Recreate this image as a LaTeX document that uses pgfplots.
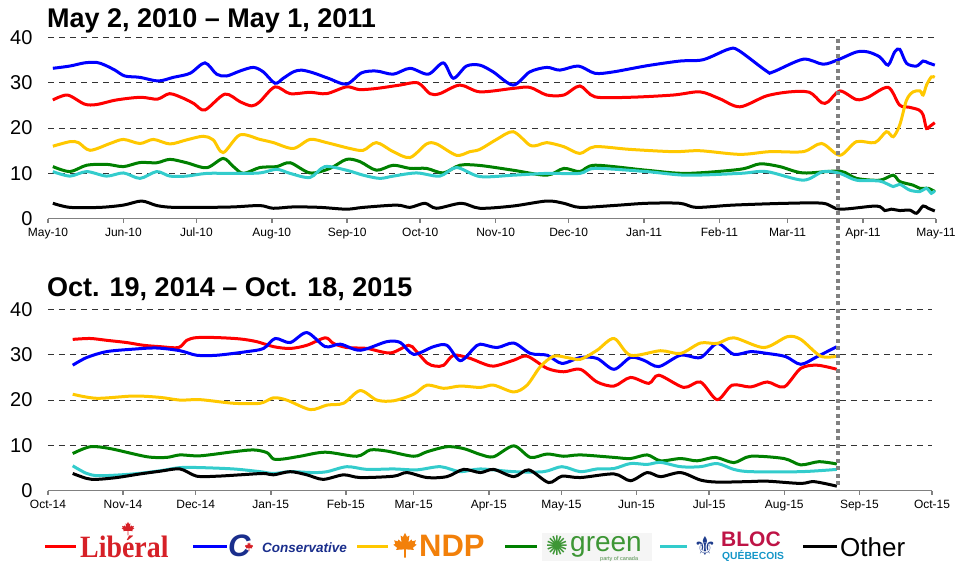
\documentclass[border=0pt]{standalone}
\usepackage{fontspec}
\setmainfont{Liberation Sans}
\newfontfamily\libserif{Liberation Serif}
\newfontfamily\dejavu{DejaVu Sans}
\usepackage{graphicx}
\usepackage{pgfplots}
\pgfplotsset{compat=1.18}

\definecolor{clib}{RGB}{255,0,0}
\definecolor{ccpc}{RGB}{0,0,255}
\definecolor{cndp}{RGB}{255,200,0}
\definecolor{cgrn}{RGB}{0,128,0}
\definecolor{cbq}{RGB}{51,204,204}
\definecolor{libred}{RGB}{214,32,39}
\definecolor{cpcblue}{RGB}{26,46,140}
\definecolor{ndporange}{RGB}{242,128,10}
\definecolor{gpcgreen}{RGB}{61,150,53}
\definecolor{blocred}{RGB}{190,20,70}
\definecolor{blocblue}{RGB}{20,150,200}
\definecolor{blocnavy}{RGB}{30,60,140}

% simple maple leaf shape (decoration in the legend logos)
\newcommand{\mapleleaf}[4]{% color, x, y, size
  \fill[#1, shift={(#2,#3)}, x=#4, y=#4]
  (0,0.5) -- (-0.08,0.35) -- (-0.17,0.4) -- (-0.13,0.13) -- (-0.25,0.25) -- (-0.28,0.18)
  -- (-0.42,0.22) -- (-0.37,0.08) -- (-0.45,0.05) -- (-0.3,-0.07) -- (-0.34,-0.15)
  -- (-0.03,-0.13) -- (-0.03,-0.45) -- (0.03,-0.45) -- (0.03,-0.13) -- (0.34,-0.15)
  -- (0.3,-0.07) -- (0.45,0.05) -- (0.37,0.08) -- (0.42,0.22) -- (0.28,0.18)
  -- (0.25,0.25) -- (0.13,0.13) -- (0.17,0.4) -- (0.08,0.35) -- cycle;}

\pgfplotsset{
  panel/.style={
    scale only axis, height=181.2pt,
    xmin=0, xmax=365, ymin=0, ymax=40,
    axis x line*=bottom, axis y line*=left,
    x axis line style={draw=gray, line width=1.5pt, -},
    y axis line style={draw=none},
    ytick={0,10,20,30,40},
    yticklabels={0,10,20,30,40},
    ymajorgrids,
    major grid style={dash pattern=on 6pt off 5pt, line width=1pt, color=black!80},
    ytick style={draw=none},
    xtick style={draw=gray, line width=1.5pt},
    tick align=outside, major tick length=4pt,
    yticklabel style={font=\fontsize{20}{22}\selectfont, xshift=-8pt},
    xticklabel style={font=\fontsize{12}{14}\selectfont, yshift=-2pt},
    /pgf/number format/assume math mode=true,
    every axis plot/.append style={line width=3pt, smooth, mark=none},
  }
}

\begin{document}
\begin{tikzpicture}
\path[use as bounding box] (0,0) rectangle (959pt,564pt);

% ---------------- top panel ----------------
\begin{axis}[panel, width=888pt, at={(48pt,345.3pt)}, anchor=south west,
  xtick={0,31,61,92,123,153,184,214,245,276,304,335,365},
  xticklabels={May-10,Jun-10,Jul-10,Aug-10,Sep-10,Oct-10,Nov-10,Dec-10,Jan-11,Feb-11,Mar-11,Apr-11,May-11}]
\addplot[clib] coordinates {(2,26.2)(8,27.3)(15,25.3)(20,25.2)(28,26.2)(38,26.8)(45,26.4)(50,27.6)(56,26.5)(60,25.4)(64.5,24)(72.7,27.5)(79,25.8)(83.7,24.9)(87,25.8)(93.3,29.1)(99.5,27.6)(107.7,27.9)(114.5,27.6)(122.7,29.1)(128,28.5)(135,28.75)(144.7,29.5)(152,30)(157,27.6)(161,27.6)(169.3,29.5)(177.5,28)(191,28.75)(198,29)(205,27.3)(212,27.3)(218.6,29.3)(224.8,26.9)(239,26.8)(257,27.3)(268,28)(276,26.5)(284.4,24.7)(295.3,27.1)(305,28)(313,27.9)(318,25.6)(320.7,25.8)(325.5,28.2)(332.3,26.3)(337,26.8)(345.3,29)(350,25.1)(354,24.6)(358,24)(359.7,22.9)(361.1,19.9)(362.5,20.4)(364.5,21.2)};
\addplot[ccpc] coordinates {(2,33.2)(9,33.7)(15,34.4)(20,34.5)(23.4,33.9)(27.5,32.8)(31.6,31.5)(37.8,31.2)(45.3,30.4)(51.5,31.2)(58.4,32.1)(64.5,34.4)(69.3,31.9)(73.4,31.5)(78.9,32.6)(84.4,33.4)(88.5,32.4)(93.3,29.9)(96.7,31)(100.8,32.4)(104.2,32.8)(109,32.2)(115.2,31)(122.7,29.7)(128.9,32.2)(135,32.6)(141.9,31.9)(148.8,33.2)(156.3,31.9)(162.5,34.4)(166.6,31)(172,33.7)(177.5,33.9)(183,32.4)(191.2,29.5)(198,32.4)(205,33.4)(210.4,32.8)(218,33.7)(224.8,32.1)(232.3,32.4)(246,33.75)(259.7,34.8)(269.3,35.1)(279.6,37.4)(283.7,37.2)(295.3,32.6)(298,32.4)(310.4,35.2)(318.6,34.1)(324.8,35.1)(332.3,36.8)(337.1,36.8)(341.9,35.7)(345.3,33.9)(348,36.8)(350.1,37.4)(352.9,34.3)(357,33.7)(359.7,34.8)(361.8,34.4)(364.5,33.9)};
\addplot[cndp] coordinates {(2,16)(9,17)(12.5,16.8)(17.3,15.1)(25.5,16.6)(31,17.5)(37.8,16.6)(43.3,17.5)(50.1,16.5)(57,17.4)(63.8,18.2)(67.9,17.4)(72,14.6)(78.9,18.5)(87.1,17.5)(92.6,16.8)(100.8,15.5)(107.7,17.5)(114.5,16.8)(124.1,15.5)(129.6,15.1)(135,16.8)(141.9,14.8)(148.8,13.5)(155.6,16.5)(159.7,16.5)(167.9,14)(173.4,14.8)(177.5,15.3)(184.4,17.5)(191.2,19.2)(198,16.25)(201.5,16.25)(205,16.8)(212,15.9)(218.6,14.4)(224.8,15.9)(239.2,15.3)(257,14.8)(268,15)(284.4,14.2)(296.7,14.8)(310.4,14.8)(318,16.6)(325.5,14)(332.3,17)(339.9,16.8)(344.6,19.2)(347.4,18.1)(350.1,20.7)(352.9,26.2)(355.6,28)(358.4,28.2)(359.7,27.3)(361.1,29.5)(363.1,31.3)(364.5,31.2)};
\addplot[cgrn] coordinates {(2,11.5)(9,10.4)(15.9,11.8)(24.1,12)(31,11.5)(37.8,12.4)(44.7,12.35)(50.1,13.1)(57,12.35)(65.2,11.25)(72,13.3)(76.2,11.5)(80.3,10)(87.1,11.3)(94,11.5)(99.5,12.35)(107.7,10.1)(115.9,11.1)(122.7,13.1)(128.2,12.6)(135,10.7)(141.9,11.8)(148.8,11.1)(155.6,11.1)(162.5,10.1)(169.3,11.8)(177.5,11.75)(191.2,10.7)(205,9.6)(212,11.1)(218.6,10.4)(224.8,11.8)(246,10.7)(262.4,10)(284.4,10.9)(292.6,12.1)(300.8,11.5)(310.4,10.1)(325.5,10.5)(332.3,8.9)(341.9,8.5)(347.4,9.6)(350.1,8.2)(355.6,7.4)(358.4,6.7)(361.8,6.7)(364.5,6)};
\addplot[cbq] coordinates {(2,10.4)(9,9.4)(15.9,10.4)(24.1,9.4)(31,10.1)(37.8,8.9)(44.7,10.4)(50.1,9.4)(57,9.4)(65.2,10)(76.2,10)(87.1,10.1)(94,10.9)(99.5,10)(107.7,9.1)(113.8,11.5)(122.7,10.7)(129.6,9.6)(136.4,8.9)(141.9,9.4)(151.5,10.1)(161,9.4)(167.9,11.3)(177.5,9.3)(191.2,9.6)(205,10)(218.6,10)(224.8,11.1)(246,10.4)(262.4,9.6)(284.4,10)(295.3,10.4)(310.4,8.5)(318.6,10.4)(325.5,10)(332.3,8.5)(341.9,8.3)(347.4,7.1)(350.1,7.6)(354.2,6.3)(358.4,6)(361.1,6.7)(363.1,5.6)(364.5,6.2)};
\addplot[black] coordinates {(2,3.4)(9,2.5)(21.4,2.5)(31,3)(38.5,3.9)(44.7,2.9)(51.5,2.5)(65.2,2.5)(76.2,2.6)(87.1,2.9)(92.6,2.3)(100.8,2.6)(111.8,2.5)(122.7,2.1)(129.6,2.5)(143.3,3)(148.8,2.5)(154.9,3.4)(159.7,2.3)(169.9,3.4)(177.5,2.3)(191.2,2.8)(205,3.9)(212,3.4)(218.6,2.5)(232.3,2.9)(246,3.4)(259.7,3.4)(266.6,2.5)(281.6,3)(303.6,3.4)(318.6,3.4)(325.5,2.1)(340.5,2.8)(343.9,1.8)(346.6,2.1)(350.1,1.8)(354.2,1.9)(357,1.2)(359.7,2.8)(361.8,2.3)(364.5,1.7)};
\end{axis}

% ---------------- bottom panel ----------------
\begin{axis}[panel, width=884pt, at={(48pt,73.3pt)}, anchor=south west,
  xtick={0,31,61,92,123,151,182,212,243,273,304,335,365},
  xticklabels={Oct-14,Nov-14,Dec-14,Jan-15,Feb-15,Mar-15,Apr-15,May-15,Jun-15,Jul-15,Aug-15,Sep-15,Oct-15}]
\addplot[clib] coordinates {(10.2,33.4)(17.4,33.6)(24.2,33.2)(32.5,32.7)(39.4,32.1)(46.3,31.8)(53.9,31.6)(57.3,33.2)(61.4,33.8)(69.7,33.8)(79.3,33.5)(86.2,32.9)(93.1,31.8)(100,31.4)(106.9,32.1)(114.5,33.75)(117.9,32.5)(123.4,31.6)(131.7,31.4)(141.3,30.4)(148.9,32.1)(151.7,31)(156.5,28.2)(159.9,27.5)(163.4,27.7)(167.5,29.9)(174.4,29.2)(178.5,28.3)(184,27.5)(192.3,28.8)(197.8,29.7)(206.1,27)(212.9,26.25)(219.8,26.8)(226.7,24)(233.7,23.1)(240.5,25)(248.1,23.7)(252.2,25.5)(262.5,22.8)(269.4,24)(276.3,20.1)(282.5,23.3)(290.1,22.9)(297,24)(303.9,22.9)(310.8,27)(317.6,27.7)(325.7,26.8)};
\addplot[ccpc] coordinates {(10.2,27.7)(16,29.4)(24.2,30.7)(35.3,31.25)(44.9,31.5)(54.5,30.9)(61.4,29.9)(69.7,29.9)(82.1,30.7)(89,31.4)(93.8,33.6)(100,32.7)(106.9,34.9)(114.5,31.8)(120.7,32.35)(128.9,31)(139.9,32.9)(145.5,32.7)(151,30.1)(159.2,31.8)(164.7,32.1)(170.2,28.7)(175.8,31.4)(178.5,32.35)(185.4,31.6)(192.3,32.6)(199.2,30.3)(206.1,29.9)(212.2,28.1)(219.8,29.4)(226.7,29.2)(233.7,26.8)(240.5,29.4)(246,28.8)(252.2,27.4)(261.2,29.9)(269.4,29.4)(276.3,32.5)(283.2,30.1)(290.1,30.7)(297,30.3)(304.6,29.6)(310.8,27.9)(317.6,29.6)(325.7,31.8)};
\addplot[cndp] coordinates {(10.2,21.3)(20.1,20.4)(35.3,20.9)(46.3,20.6)(54.5,20)(62.8,20.1)(76.6,19.3)(87.6,19.3)(93.1,20.5)(98.6,20)(108.3,17.9)(115.2,18.9)(122,19.3)(128.9,22.1)(135.8,20)(142.7,19.85)(151,21.3)(156.5,23.3)(163.4,22.6)(170.2,23.1)(178.5,22.8)(184,23.3)(192.3,21.8)(197.8,23.3)(203.3,27.4)(208.8,29.7)(214.3,29.4)(219.8,29)(226.7,31)(233.7,33.6)(240.5,29.9)(252.9,30.9)(261.2,30.3)(269.4,32.6)(276.3,32.5)(283.2,33.75)(295.6,31.6)(305.3,34)(310.8,33.4)(319,29.7)(325.7,29.7)};
\addplot[cgrn] coordinates {(10.2,8.2)(17.4,9.7)(25.6,9.3)(40.8,7.5)(49,7.35)(54.5,7.9)(62.8,7.7)(76.6,8.6)(84.8,9)(90.4,8.4)(93.1,7)(97.2,7)(104.1,7.6)(114.5,8.5)(127.5,7.6)(133.1,9)(139.9,8.75)(151,7.6)(156.5,8.6)(164.7,9.7)(171.6,9.3)(178.5,8.0)(184,7.5)(192.3,9.9)(199.2,7.35)(206.1,8.1)(212.9,7.6)(219.8,7.9)(233.7,7.35)(240.5,7.1)(247.4,7.9)(252.9,6.6)(261.2,7.1)(268,6.6)(275.6,7.35)(283.2,6.2)(290.1,7.6)(303.9,7.1)(310.8,5.7)(318.3,6.4)(325.7,5.9)};
\addplot[cbq] coordinates {(10.2,5.5)(16,3.8)(21.5,3.3)(35.3,3.7)(46.3,4.4)(54.5,5.1)(62.8,5.1)(76.6,4.8)(87.6,4.2)(93.1,3.8)(100,4.2)(109.6,4)(115.2,4.2)(123.4,5.3)(131.7,4.7)(142.7,4.8)(152.3,4.6)(162,5.3)(170.2,4.2)(178.5,4.8)(192.3,4.2)(204.7,4.2)(212.2,5.3)(219.8,4.2)(226.7,4.8)(233.7,4.9)(240.5,6)(247.4,5.8)(252.9,6.25)(261.2,5.3)(269.4,5.3)(276.3,6)(283.2,4.7)(290.1,4.2)(310.8,4.2)(325.7,4.7)};
\addplot[black] coordinates {(10.2,3.8)(16,2.7)(20.1,2.5)(28.4,2.9)(38,3.7)(46.3,4.3)(54.5,4.8)(61.4,3.2)(69.7,3.2)(79.3,3.5)(89,3.8)(93.1,3.5)(100,4.2)(106.9,3.5)(113.6,2.5)(122,3.5)(128.9,2.9)(142.7,3.2)(148.2,4)(156.5,2.9)(164.7,3.1)(171.6,4.7)(178.5,4)(184,4.7)(192.3,3.1)(198.5,4.6)(206.7,1.8)(212.2,3.2)(219.8,2.9)(233.7,3.7)(240.5,2.2)(247.4,4)(252.9,3.1)(261.2,4)(269.4,2.35)(276.3,1.9)(288.7,2)(297,2.1)(310.8,1.6)(316.3,2)(325.7,1.0)};
\end{axis}

% titles
\node[anchor=base west, inner sep=0, font=\fontsize{27}{30}\selectfont\bfseries] at (47pt,536pt) {May 2, 2010 – May 1, 2011};
\node[anchor=base west, inner sep=0, font=\fontsize{27}{30}\selectfont\bfseries] at (47pt,267pt) {Oct. 19, 2014 – Oct. 18, 2015};

% dotted marker line
\draw[gray, line width=4pt, dash pattern=on 4pt off 3.5pt] (838pt,525pt) -- (838pt,75pt);

% legend
\draw[clib, line width=3pt] (45pt,17pt) -- (76pt,17pt);
\node[anchor=base west, inner sep=0, text=libred, font=\libserif\bfseries\fontsize{31}{31}\selectfont] at (80pt,6pt) {\scalebox{0.9}[1]{Libéral}};
\mapleleaf{libred}{128pt}{35pt}{14pt}

\draw[ccpc, line width=3pt] (193pt,17pt) -- (227pt,17pt);
\node[anchor=base west, inner sep=0, text=cpcblue, font=\fontsize{31}{31}\selectfont\bfseries\itshape] at (228pt,7pt) {C};
\mapleleaf{libred}{249pt}{17pt}{9pt}
\node[anchor=base west, inner sep=0, text=cpcblue, font=\fontsize{13.5}{14}\selectfont\bfseries\itshape] at (262pt,11pt) {Conservative};

\draw[cndp, line width=3pt] (357pt,17pt) -- (388pt,17pt);
\mapleleaf{ndporange}{405pt}{18pt}{26pt}
\node[anchor=base west, inner sep=0, text=ndporange, font=\fontsize{31}{31}\selectfont\bfseries] at (419pt,7pt) {NDP};

\draw[cgrn, line width=3pt] (505pt,17pt) -- (537pt,17pt);
\fill[black!4] (542pt,3pt) rectangle (652pt,31pt);
\node[inner sep=0, text=gpcgreen, font=\dejavu\fontsize{27}{27}\selectfont] at (557pt,18pt) {✺};
\node[anchor=base west, inner sep=0, text=gpcgreen, font=\fontsize{28}{28}\selectfont] at (570pt,12pt) {green};
\node[anchor=base west, inner sep=0, text=gpcgreen!70!gray, font=\fontsize{5.5}{6}\selectfont] at (600pt,3pt) {party of canada};

\draw[cbq, line width=3pt] (660pt,17pt) -- (687pt,17pt);
\node[inner sep=0, text=blocnavy, font=\dejavu\fontsize{26}{26}\selectfont] at (705pt,18pt) {⚜};
\node[anchor=base west, inner sep=0, text=blocred, font=\fontsize{21}{21}\selectfont\bfseries] at (721pt,17pt) {BLOC};
\node[anchor=base west, inner sep=0, text=blocblue, font=\fontsize{10.3}{11}\selectfont\bfseries] at (722pt,4pt) {QUÉBECOIS};

\draw[black, line width=3pt] (803pt,17pt) -- (837pt,17pt);
\node[anchor=base west, inner sep=0, font=\fontsize{26}{26}\selectfont] at (840pt,7pt) {Other};
\end{tikzpicture}
\end{document}
